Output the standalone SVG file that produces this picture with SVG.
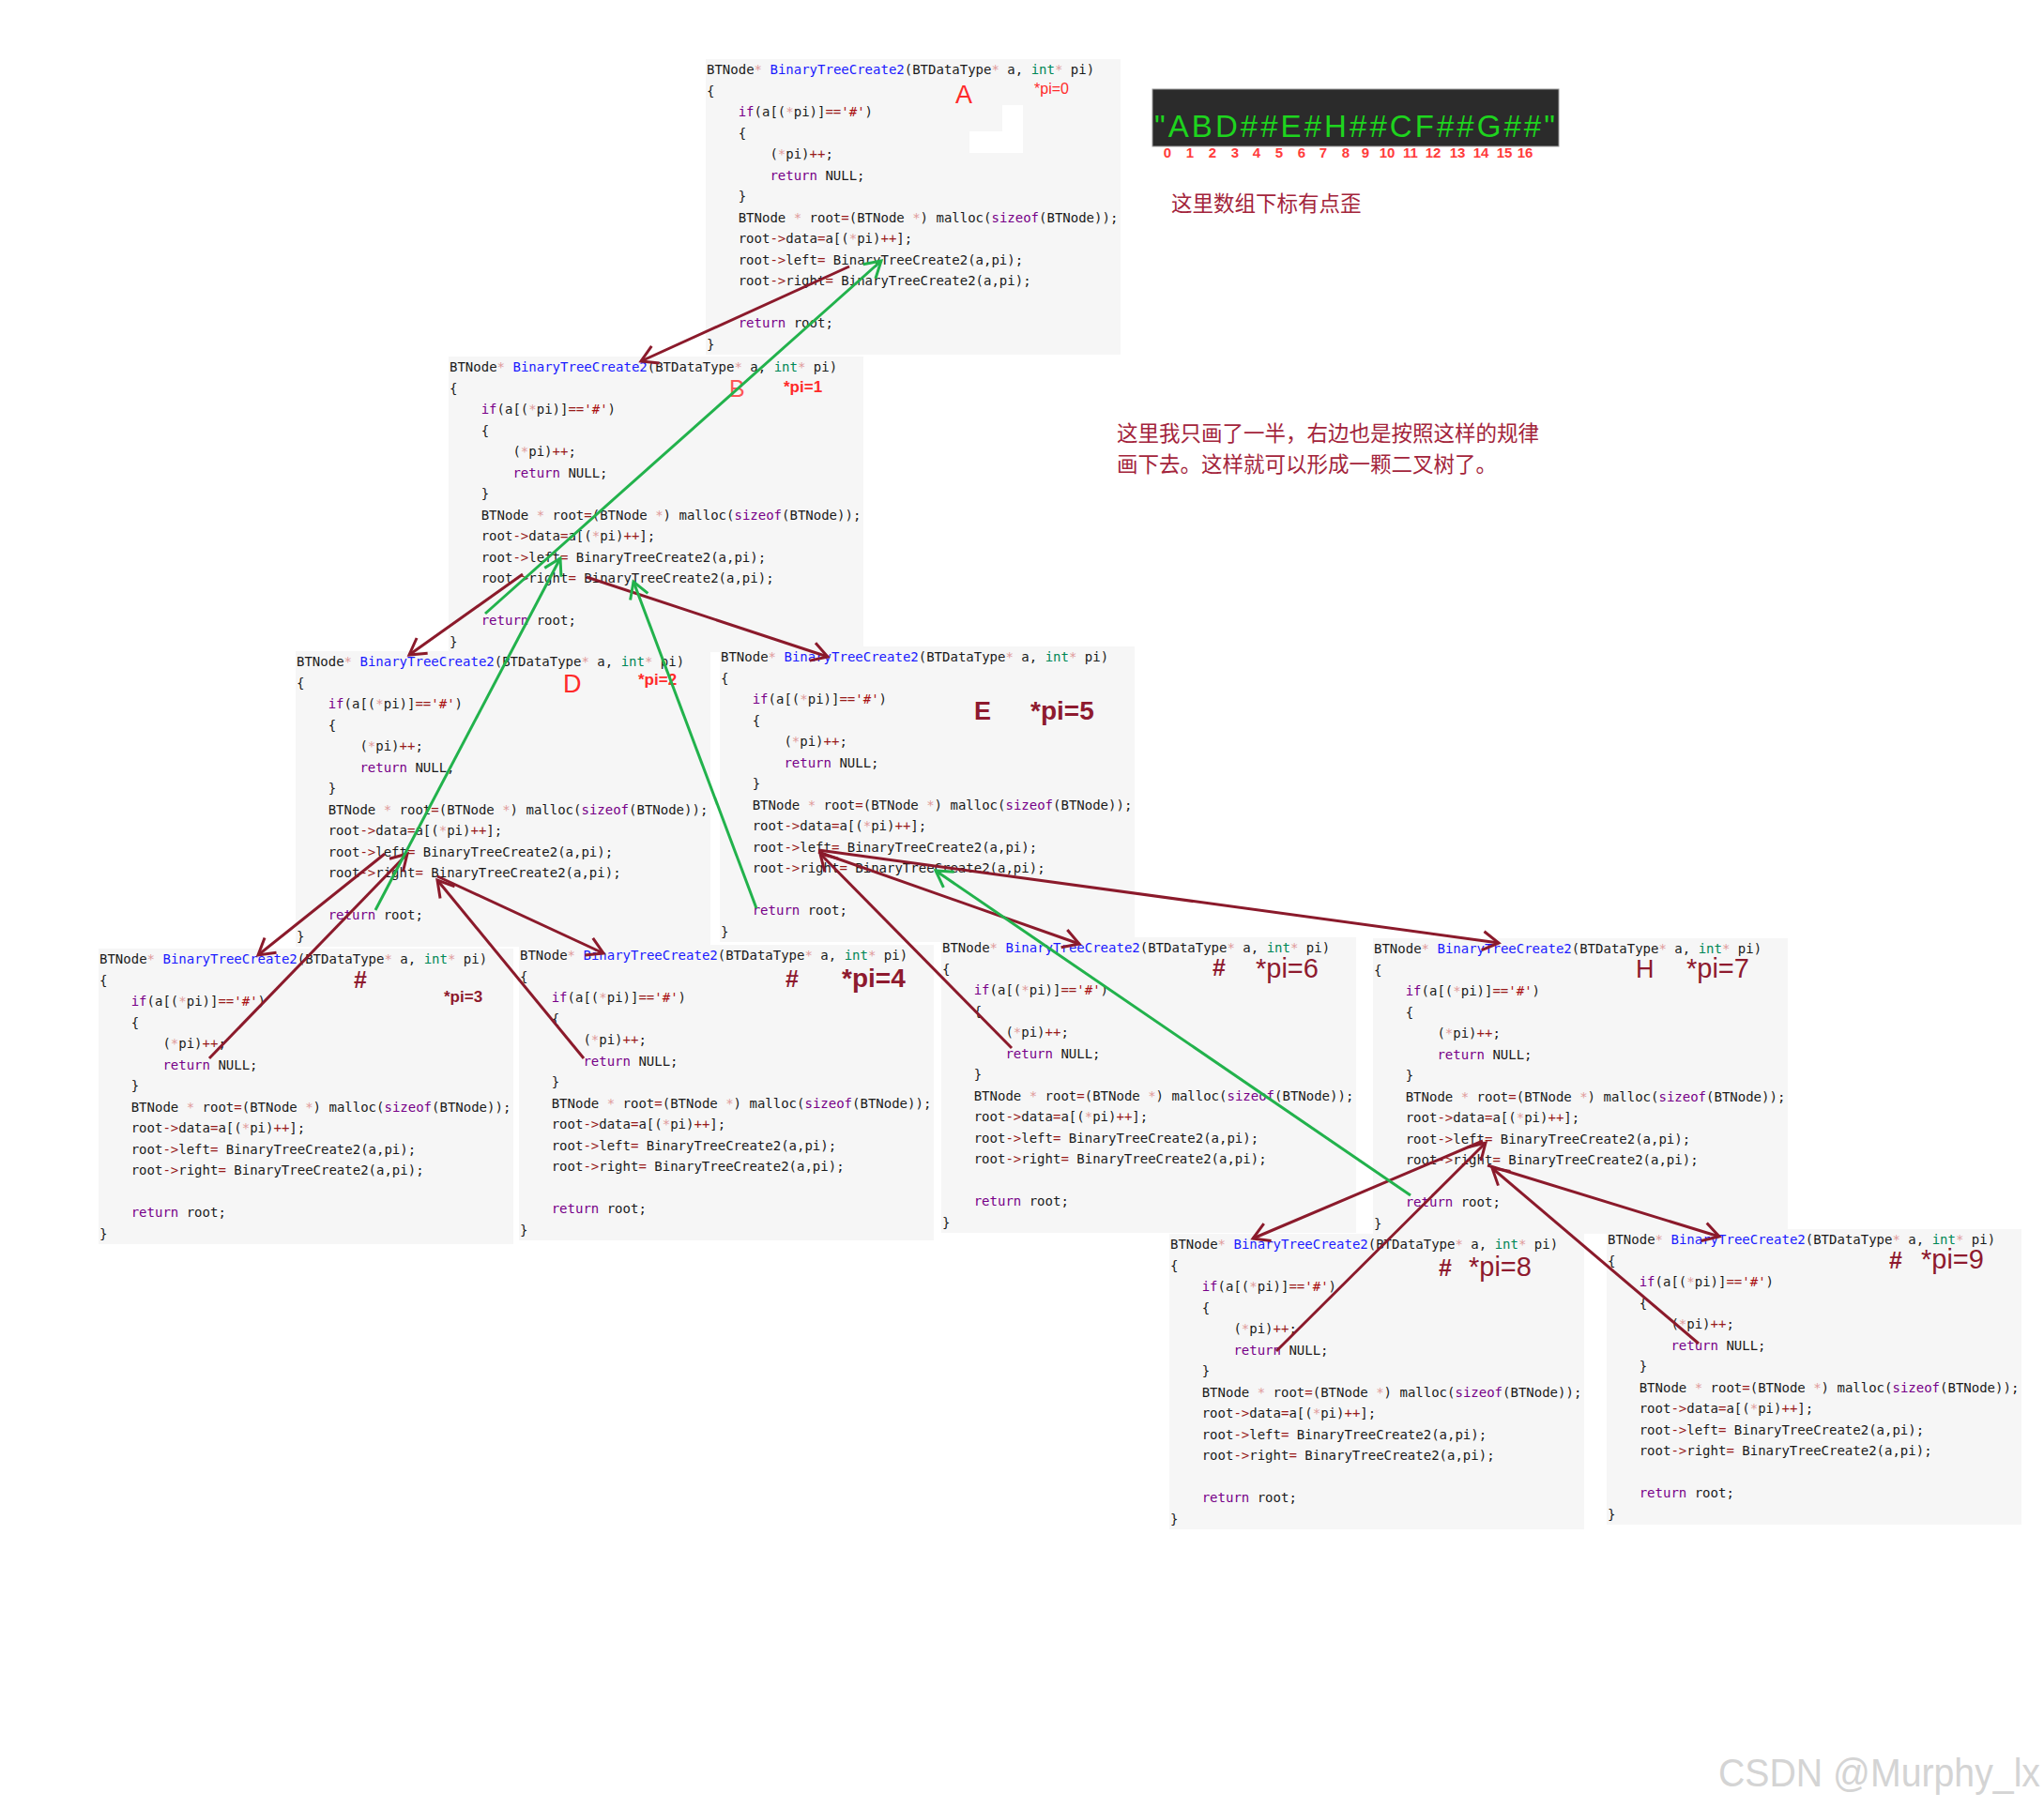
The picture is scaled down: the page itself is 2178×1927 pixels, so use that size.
<svg xmlns="http://www.w3.org/2000/svg" width="2178" height="1927" viewBox="0 0 2178 1927">
<style>
.bg{fill:#f6f6f6}
.c{font-family:"DejaVu Sans Mono","Liberation Mono",monospace;font-size:14px;fill:#1a1a1a}
.k{fill:#770088}.t{fill:#008855}.d{fill:#1a1aff}.o{fill:#981a1a}.s{fill:#aa1111}.p{fill:#e09a9a}
.lr{font-family:"Liberation Sans",Arial,sans-serif;fill:#ff2a2a}
.ld{font-family:"Liberation Sans",Arial,sans-serif;fill:#8e1a2e}
.b{font-weight:bold}
.red{stroke:#8b1a2b;stroke-width:3;fill:none;marker-end:url(#mr)}
.grn{stroke:#22b24c;stroke-width:3;fill:none;marker-end:url(#mg)}
.cn{font-family:"Noto Sans CJK SC","Noto Sans",sans-serif;fill:#a3243b;font-size:22.5px}
.idx{font-family:"Liberation Sans",Arial,sans-serif;font-weight:bold;font-size:15px;fill:#ff3b3b;text-anchor:middle}
</style>
<defs>
<marker id="mr" markerUnits="userSpaceOnUse" markerWidth="40" markerHeight="40" viewBox="-20 -20 40 40" refX="0" refY="0" orient="auto"><path d="M-17,-10 L0,0 L-17,10" fill="none" stroke="#8b1a2b" stroke-width="3"/></marker>
<marker id="mg" markerUnits="userSpaceOnUse" markerWidth="40" markerHeight="40" viewBox="-20 -20 40 40" refX="0" refY="0" orient="auto"><path d="M-17,-10 L0,0 L-17,10" fill="none" stroke="#22b24c" stroke-width="3"/></marker>
</defs>
<rect width="2178" height="1927" fill="#ffffff"/>

<g id="node-A" transform="translate(752,63)">
<rect class="bg" width="442" height="315"/>
<text class="c" x="1" y="16">BTNode<tspan class="p">*</tspan> <tspan class="d">BinaryTreeCreate2</tspan>(BTDataType<tspan class="p">*</tspan> a, <tspan class="t">int</tspan><tspan class="p">*</tspan> pi)</text>
<text class="c" x="1" y="38.5">{</text>
<text class="c" x="34.7" y="61"><tspan class="k">if</tspan>(a[(<tspan class="p">*</tspan>pi)]<tspan class="o">==</tspan><tspan class="s">'#'</tspan>)</text>
<text class="c" x="34.7" y="83.5">{</text>
<text class="c" x="68.4" y="106">(<tspan class="p">*</tspan>pi)<tspan class="o">++</tspan>;</text>
<text class="c" x="68.4" y="128.5"><tspan class="k">return</tspan> NULL;</text>
<text class="c" x="34.7" y="151">}</text>
<text class="c" x="34.7" y="173.5">BTNode <tspan class="p">*</tspan> root<tspan class="o">=</tspan>(BTNode <tspan class="p">*</tspan>) malloc(<tspan class="k">sizeof</tspan>(BTNode));</text>
<text class="c" x="34.7" y="196">root<tspan class="o">-&gt;</tspan>data<tspan class="o">=</tspan>a[(<tspan class="p">*</tspan>pi)<tspan class="o">++</tspan>];</text>
<text class="c" x="34.7" y="218.5">root<tspan class="o">-&gt;</tspan>left<tspan class="o">=</tspan> BinaryTreeCreate2(a,pi);</text>
<text class="c" x="34.7" y="241">root<tspan class="o">-&gt;</tspan>right<tspan class="o">=</tspan> BinaryTreeCreate2(a,pi);</text>
<text class="c" x="34.7" y="286"><tspan class="k">return</tspan> root;</text>
<text class="c" x="1" y="308.5">}</text>
<polygon points="316,49 338,49 338,100 281,100 281,77 316,77" fill="#ffffff"/>
<text class="lr" x="266" y="47" font-size="27">A</text>
<text class="lr" x="350" y="37" font-size="16">*pi=0</text>
</g>

<g id="node-B" transform="translate(478,380)">
<rect class="bg" width="442" height="315"/>
<text class="c" x="1" y="16">BTNode<tspan class="p">*</tspan> <tspan class="d">BinaryTreeCreate2</tspan>(BTDataType<tspan class="p">*</tspan> a, <tspan class="t">int</tspan><tspan class="p">*</tspan> pi)</text>
<text class="c" x="1" y="38.5">{</text>
<text class="c" x="34.7" y="61"><tspan class="k">if</tspan>(a[(<tspan class="p">*</tspan>pi)]<tspan class="o">==</tspan><tspan class="s">'#'</tspan>)</text>
<text class="c" x="34.7" y="83.5">{</text>
<text class="c" x="68.4" y="106">(<tspan class="p">*</tspan>pi)<tspan class="o">++</tspan>;</text>
<text class="c" x="68.4" y="128.5"><tspan class="k">return</tspan> NULL;</text>
<text class="c" x="34.7" y="151">}</text>
<text class="c" x="34.7" y="173.5">BTNode <tspan class="p">*</tspan> root<tspan class="o">=</tspan>(BTNode <tspan class="p">*</tspan>) malloc(<tspan class="k">sizeof</tspan>(BTNode));</text>
<text class="c" x="34.7" y="196">root<tspan class="o">-&gt;</tspan>data<tspan class="o">=</tspan>a[(<tspan class="p">*</tspan>pi)<tspan class="o">++</tspan>];</text>
<text class="c" x="34.7" y="218.5">root<tspan class="o">-&gt;</tspan>left<tspan class="o">=</tspan> BinaryTreeCreate2(a,pi);</text>
<text class="c" x="34.7" y="241">root<tspan class="o">-&gt;</tspan>right<tspan class="o">=</tspan> BinaryTreeCreate2(a,pi);</text>
<text class="c" x="34.7" y="286"><tspan class="k">return</tspan> root;</text>
<text class="c" x="1" y="308.5">}</text>
<text class="lr" x="299" y="43" font-size="25" fill-opacity="0.8">B</text>
<text class="lr b" x="357" y="38" font-size="17">*pi=1</text>
</g>

<g id="node-D" transform="translate(315,694)">
<rect class="bg" width="442" height="315"/>
<text class="c" x="1" y="16">BTNode<tspan class="p">*</tspan> <tspan class="d">BinaryTreeCreate2</tspan>(BTDataType<tspan class="p">*</tspan> a, <tspan class="t">int</tspan><tspan class="p">*</tspan> pi)</text>
<text class="c" x="1" y="38.5">{</text>
<text class="c" x="34.7" y="61"><tspan class="k">if</tspan>(a[(<tspan class="p">*</tspan>pi)]<tspan class="o">==</tspan><tspan class="s">'#'</tspan>)</text>
<text class="c" x="34.7" y="83.5">{</text>
<text class="c" x="68.4" y="106">(<tspan class="p">*</tspan>pi)<tspan class="o">++</tspan>;</text>
<text class="c" x="68.4" y="128.5"><tspan class="k">return</tspan> NULL;</text>
<text class="c" x="34.7" y="151">}</text>
<text class="c" x="34.7" y="173.5">BTNode <tspan class="p">*</tspan> root<tspan class="o">=</tspan>(BTNode <tspan class="p">*</tspan>) malloc(<tspan class="k">sizeof</tspan>(BTNode));</text>
<text class="c" x="34.7" y="196">root<tspan class="o">-&gt;</tspan>data<tspan class="o">=</tspan>a[(<tspan class="p">*</tspan>pi)<tspan class="o">++</tspan>];</text>
<text class="c" x="34.7" y="218.5">root<tspan class="o">-&gt;</tspan>left<tspan class="o">=</tspan> BinaryTreeCreate2(a,pi);</text>
<text class="c" x="34.7" y="241">root<tspan class="o">-&gt;</tspan>right<tspan class="o">=</tspan> BinaryTreeCreate2(a,pi);</text>
<text class="c" x="34.7" y="286"><tspan class="k">return</tspan> root;</text>
<text class="c" x="1" y="308.5">}</text>
<text class="lr" x="285" y="44" font-size="27">D</text>
<text class="lr b" x="365" y="36" font-size="17">*pi=2</text>
</g>

<g id="node-E" transform="translate(767,689)">
<rect class="bg" width="442" height="315"/>
<text class="c" x="1" y="16">BTNode<tspan class="p">*</tspan> <tspan class="d">BinaryTreeCreate2</tspan>(BTDataType<tspan class="p">*</tspan> a, <tspan class="t">int</tspan><tspan class="p">*</tspan> pi)</text>
<text class="c" x="1" y="38.5">{</text>
<text class="c" x="34.7" y="61"><tspan class="k">if</tspan>(a[(<tspan class="p">*</tspan>pi)]<tspan class="o">==</tspan><tspan class="s">'#'</tspan>)</text>
<text class="c" x="34.7" y="83.5">{</text>
<text class="c" x="68.4" y="106">(<tspan class="p">*</tspan>pi)<tspan class="o">++</tspan>;</text>
<text class="c" x="68.4" y="128.5"><tspan class="k">return</tspan> NULL;</text>
<text class="c" x="34.7" y="151">}</text>
<text class="c" x="34.7" y="173.5">BTNode <tspan class="p">*</tspan> root<tspan class="o">=</tspan>(BTNode <tspan class="p">*</tspan>) malloc(<tspan class="k">sizeof</tspan>(BTNode));</text>
<text class="c" x="34.7" y="196">root<tspan class="o">-&gt;</tspan>data<tspan class="o">=</tspan>a[(<tspan class="p">*</tspan>pi)<tspan class="o">++</tspan>];</text>
<text class="c" x="34.7" y="218.5">root<tspan class="o">-&gt;</tspan>left<tspan class="o">=</tspan> BinaryTreeCreate2(a,pi);</text>
<text class="c" x="34.7" y="241">root<tspan class="o">-&gt;</tspan>right<tspan class="o">=</tspan> BinaryTreeCreate2(a,pi);</text>
<text class="c" x="34.7" y="286"><tspan class="k">return</tspan> root;</text>
<text class="c" x="1" y="308.5">}</text>
<text class="ld b" x="271" y="78" font-size="27">E</text>
<text class="ld b" x="331" y="78" font-size="28">*pi=5</text>
</g>

<g id="node-3" transform="translate(105,1011)">
<rect class="bg" width="442" height="315"/>
<text class="c" x="1" y="16">BTNode<tspan class="p">*</tspan> <tspan class="d">BinaryTreeCreate2</tspan>(BTDataType<tspan class="p">*</tspan> a, <tspan class="t">int</tspan><tspan class="p">*</tspan> pi)</text>
<text class="c" x="1" y="38.5">{</text>
<text class="c" x="34.7" y="61"><tspan class="k">if</tspan>(a[(<tspan class="p">*</tspan>pi)]<tspan class="o">==</tspan><tspan class="s">'#'</tspan>)</text>
<text class="c" x="34.7" y="83.5">{</text>
<text class="c" x="68.4" y="106">(<tspan class="p">*</tspan>pi)<tspan class="o">++</tspan>;</text>
<text class="c" x="68.4" y="128.5"><tspan class="k">return</tspan> NULL;</text>
<text class="c" x="34.7" y="151">}</text>
<text class="c" x="34.7" y="173.5">BTNode <tspan class="p">*</tspan> root<tspan class="o">=</tspan>(BTNode <tspan class="p">*</tspan>) malloc(<tspan class="k">sizeof</tspan>(BTNode));</text>
<text class="c" x="34.7" y="196">root<tspan class="o">-&gt;</tspan>data<tspan class="o">=</tspan>a[(<tspan class="p">*</tspan>pi)<tspan class="o">++</tspan>];</text>
<text class="c" x="34.7" y="218.5">root<tspan class="o">-&gt;</tspan>left<tspan class="o">=</tspan> BinaryTreeCreate2(a,pi);</text>
<text class="c" x="34.7" y="241">root<tspan class="o">-&gt;</tspan>right<tspan class="o">=</tspan> BinaryTreeCreate2(a,pi);</text>
<text class="c" x="34.7" y="286"><tspan class="k">return</tspan> root;</text>
<text class="c" x="1" y="308.5">}</text>
<text class="ld b" x="272" y="42" font-size="25">#</text>
<text class="ld b" x="368" y="57" font-size="17">*pi=3</text>
</g>

<g id="node-4" transform="translate(553,1007)">
<rect class="bg" width="442" height="315"/>
<text class="c" x="1" y="16">BTNode<tspan class="p">*</tspan> <tspan class="d">BinaryTreeCreate2</tspan>(BTDataType<tspan class="p">*</tspan> a, <tspan class="t">int</tspan><tspan class="p">*</tspan> pi)</text>
<text class="c" x="1" y="38.5">{</text>
<text class="c" x="34.7" y="61"><tspan class="k">if</tspan>(a[(<tspan class="p">*</tspan>pi)]<tspan class="o">==</tspan><tspan class="s">'#'</tspan>)</text>
<text class="c" x="34.7" y="83.5">{</text>
<text class="c" x="68.4" y="106">(<tspan class="p">*</tspan>pi)<tspan class="o">++</tspan>;</text>
<text class="c" x="68.4" y="128.5"><tspan class="k">return</tspan> NULL;</text>
<text class="c" x="34.7" y="151">}</text>
<text class="c" x="34.7" y="173.5">BTNode <tspan class="p">*</tspan> root<tspan class="o">=</tspan>(BTNode <tspan class="p">*</tspan>) malloc(<tspan class="k">sizeof</tspan>(BTNode));</text>
<text class="c" x="34.7" y="196">root<tspan class="o">-&gt;</tspan>data<tspan class="o">=</tspan>a[(<tspan class="p">*</tspan>pi)<tspan class="o">++</tspan>];</text>
<text class="c" x="34.7" y="218.5">root<tspan class="o">-&gt;</tspan>left<tspan class="o">=</tspan> BinaryTreeCreate2(a,pi);</text>
<text class="c" x="34.7" y="241">root<tspan class="o">-&gt;</tspan>right<tspan class="o">=</tspan> BinaryTreeCreate2(a,pi);</text>
<text class="c" x="34.7" y="286"><tspan class="k">return</tspan> root;</text>
<text class="c" x="1" y="308.5">}</text>
<text class="ld b" x="284" y="45" font-size="25">#</text>
<text class="ld b" x="344" y="45" font-size="28">*pi=4</text>
</g>

<g id="node-6" transform="translate(1003,999)">
<rect class="bg" width="442" height="315"/>
<text class="c" x="1" y="16">BTNode<tspan class="p">*</tspan> <tspan class="d">BinaryTreeCreate2</tspan>(BTDataType<tspan class="p">*</tspan> a, <tspan class="t">int</tspan><tspan class="p">*</tspan> pi)</text>
<text class="c" x="1" y="38.5">{</text>
<text class="c" x="34.7" y="61"><tspan class="k">if</tspan>(a[(<tspan class="p">*</tspan>pi)]<tspan class="o">==</tspan><tspan class="s">'#'</tspan>)</text>
<text class="c" x="34.7" y="83.5">{</text>
<text class="c" x="68.4" y="106">(<tspan class="p">*</tspan>pi)<tspan class="o">++</tspan>;</text>
<text class="c" x="68.4" y="128.5"><tspan class="k">return</tspan> NULL;</text>
<text class="c" x="34.7" y="151">}</text>
<text class="c" x="34.7" y="173.5">BTNode <tspan class="p">*</tspan> root<tspan class="o">=</tspan>(BTNode <tspan class="p">*</tspan>) malloc(<tspan class="k">sizeof</tspan>(BTNode));</text>
<text class="c" x="34.7" y="196">root<tspan class="o">-&gt;</tspan>data<tspan class="o">=</tspan>a[(<tspan class="p">*</tspan>pi)<tspan class="o">++</tspan>];</text>
<text class="c" x="34.7" y="218.5">root<tspan class="o">-&gt;</tspan>left<tspan class="o">=</tspan> BinaryTreeCreate2(a,pi);</text>
<text class="c" x="34.7" y="241">root<tspan class="o">-&gt;</tspan>right<tspan class="o">=</tspan> BinaryTreeCreate2(a,pi);</text>
<text class="c" x="34.7" y="286"><tspan class="k">return</tspan> root;</text>
<text class="c" x="1" y="308.5">}</text>
<text class="ld b" x="289" y="41" font-size="25">#</text>
<text class="ld" x="335" y="43" font-size="29">*pi=6</text>
</g>

<g id="node-H" transform="translate(1463,1000)">
<rect class="bg" width="442" height="315"/>
<text class="c" x="1" y="16">BTNode<tspan class="p">*</tspan> <tspan class="d">BinaryTreeCreate2</tspan>(BTDataType<tspan class="p">*</tspan> a, <tspan class="t">int</tspan><tspan class="p">*</tspan> pi)</text>
<text class="c" x="1" y="38.5">{</text>
<text class="c" x="34.7" y="61"><tspan class="k">if</tspan>(a[(<tspan class="p">*</tspan>pi)]<tspan class="o">==</tspan><tspan class="s">'#'</tspan>)</text>
<text class="c" x="34.7" y="83.5">{</text>
<text class="c" x="68.4" y="106">(<tspan class="p">*</tspan>pi)<tspan class="o">++</tspan>;</text>
<text class="c" x="68.4" y="128.5"><tspan class="k">return</tspan> NULL;</text>
<text class="c" x="34.7" y="151">}</text>
<text class="c" x="34.7" y="173.5">BTNode <tspan class="p">*</tspan> root<tspan class="o">=</tspan>(BTNode <tspan class="p">*</tspan>) malloc(<tspan class="k">sizeof</tspan>(BTNode));</text>
<text class="c" x="34.7" y="196">root<tspan class="o">-&gt;</tspan>data<tspan class="o">=</tspan>a[(<tspan class="p">*</tspan>pi)<tspan class="o">++</tspan>];</text>
<text class="c" x="34.7" y="218.5">root<tspan class="o">-&gt;</tspan>left<tspan class="o">=</tspan> BinaryTreeCreate2(a,pi);</text>
<text class="c" x="34.7" y="241">root<tspan class="o">-&gt;</tspan>right<tspan class="o">=</tspan> BinaryTreeCreate2(a,pi);</text>
<text class="c" x="34.7" y="286"><tspan class="k">return</tspan> root;</text>
<text class="c" x="1" y="308.5">}</text>
<text class="ld" x="280" y="42" font-size="27">H</text>
<text class="ld" x="334" y="42" font-size="29">*pi=7</text>
</g>

<g id="node-8" transform="translate(1246,1315)">
<rect class="bg" width="442" height="315"/>
<text class="c" x="1" y="16">BTNode<tspan class="p">*</tspan> <tspan class="d">BinaryTreeCreate2</tspan>(BTDataType<tspan class="p">*</tspan> a, <tspan class="t">int</tspan><tspan class="p">*</tspan> pi)</text>
<text class="c" x="1" y="38.5">{</text>
<text class="c" x="34.7" y="61"><tspan class="k">if</tspan>(a[(<tspan class="p">*</tspan>pi)]<tspan class="o">==</tspan><tspan class="s">'#'</tspan>)</text>
<text class="c" x="34.7" y="83.5">{</text>
<text class="c" x="68.4" y="106">(<tspan class="p">*</tspan>pi)<tspan class="o">++</tspan>;</text>
<text class="c" x="68.4" y="128.5"><tspan class="k">return</tspan> NULL;</text>
<text class="c" x="34.7" y="151">}</text>
<text class="c" x="34.7" y="173.5">BTNode <tspan class="p">*</tspan> root<tspan class="o">=</tspan>(BTNode <tspan class="p">*</tspan>) malloc(<tspan class="k">sizeof</tspan>(BTNode));</text>
<text class="c" x="34.7" y="196">root<tspan class="o">-&gt;</tspan>data<tspan class="o">=</tspan>a[(<tspan class="p">*</tspan>pi)<tspan class="o">++</tspan>];</text>
<text class="c" x="34.7" y="218.5">root<tspan class="o">-&gt;</tspan>left<tspan class="o">=</tspan> BinaryTreeCreate2(a,pi);</text>
<text class="c" x="34.7" y="241">root<tspan class="o">-&gt;</tspan>right<tspan class="o">=</tspan> BinaryTreeCreate2(a,pi);</text>
<text class="c" x="34.7" y="286"><tspan class="k">return</tspan> root;</text>
<text class="c" x="1" y="308.5">}</text>
<text class="ld b" x="287" y="45" font-size="25">#</text>
<text class="ld" x="319" y="45" font-size="29">*pi=8</text>
</g>

<g id="node-9" transform="translate(1712,1310)">
<rect class="bg" width="442" height="315"/>
<text class="c" x="1" y="16">BTNode<tspan class="p">*</tspan> <tspan class="d">BinaryTreeCreate2</tspan>(BTDataType<tspan class="p">*</tspan> a, <tspan class="t">int</tspan><tspan class="p">*</tspan> pi)</text>
<text class="c" x="1" y="38.5">{</text>
<text class="c" x="34.7" y="61"><tspan class="k">if</tspan>(a[(<tspan class="p">*</tspan>pi)]<tspan class="o">==</tspan><tspan class="s">'#'</tspan>)</text>
<text class="c" x="34.7" y="83.5">{</text>
<text class="c" x="68.4" y="106">(<tspan class="p">*</tspan>pi)<tspan class="o">++</tspan>;</text>
<text class="c" x="68.4" y="128.5"><tspan class="k">return</tspan> NULL;</text>
<text class="c" x="34.7" y="151">}</text>
<text class="c" x="34.7" y="173.5">BTNode <tspan class="p">*</tspan> root<tspan class="o">=</tspan>(BTNode <tspan class="p">*</tspan>) malloc(<tspan class="k">sizeof</tspan>(BTNode));</text>
<text class="c" x="34.7" y="196">root<tspan class="o">-&gt;</tspan>data<tspan class="o">=</tspan>a[(<tspan class="p">*</tspan>pi)<tspan class="o">++</tspan>];</text>
<text class="c" x="34.7" y="218.5">root<tspan class="o">-&gt;</tspan>left<tspan class="o">=</tspan> BinaryTreeCreate2(a,pi);</text>
<text class="c" x="34.7" y="241">root<tspan class="o">-&gt;</tspan>right<tspan class="o">=</tspan> BinaryTreeCreate2(a,pi);</text>
<text class="c" x="34.7" y="286"><tspan class="k">return</tspan> root;</text>
<text class="c" x="1" y="308.5">}</text>
<text class="ld b" x="301" y="42" font-size="25">#</text>
<text class="ld" x="335" y="42" font-size="29">*pi=9</text>
</g>

<g id="string-array">
<rect x="1228" y="95" width="433" height="61" fill="#2b2b2b" stroke="#9a9a9a" stroke-width="1"/>
<text x="1230" y="146" font-family="Liberation Sans,Arial,sans-serif" font-size="33" fill="#1ed41e" textLength="427" lengthAdjust="spacing">"ABD##E#H##CF##G##"</text>
<text class="idx" y="168"><tspan x="1244">0</tspan><tspan x="1268">1</tspan><tspan x="1292">2</tspan><tspan x="1316">3</tspan><tspan x="1339">4</tspan><tspan x="1363">5</tspan><tspan x="1387">6</tspan><tspan x="1410">7</tspan><tspan x="1434">8</tspan><tspan x="1455">9</tspan><tspan x="1478">10</tspan><tspan x="1503">11</tspan><tspan x="1527">12</tspan><tspan x="1553">13</tspan><tspan x="1578">14</tspan><tspan x="1603">15</tspan><tspan x="1625">16</tspan></text>
</g>

<g id="notes">
<text class="cn" x="1248" y="225">这里数组下标有点歪</text>
<text class="cn" x="1190" y="470">这里我只画了一半，右边也是按照这样的规律</text>
<text class="cn" x="1190" y="503">画下去。这样就可以形成一颗二叉树了。</text>
</g>

<g id="connectors">
<line class="red" x1="905" y1="284" x2="683" y2="385"/>
<line class="red" x1="557" y1="612" x2="436" y2="698"/>
<line class="red" x1="410" y1="910" x2="275" y2="1018"/>
<line class="red" x1="223" y1="1128" x2="434" y2="910"/>
<line class="red" x1="466" y1="934" x2="643" y2="1016"/>
<line class="red" x1="622" y1="1128" x2="466" y2="938"/>
<line class="red" x1="625" y1="615" x2="882" y2="700"/>
<line class="red" x1="872" y1="908" x2="1150" y2="1006"/>
<line class="red" x1="1078" y1="1117" x2="874" y2="910"/>
<line class="red" x1="872" y1="906" x2="1597" y2="1005"/>
<line class="red" x1="1580" y1="1216" x2="1335" y2="1320"/>
<line class="red" x1="1360" y1="1440" x2="1583" y2="1218"/>
<line class="red" x1="1585" y1="1242" x2="1832" y2="1318"/>
<line class="red" x1="1810" y1="1432" x2="1590" y2="1245"/>
<line class="grn" x1="517" y1="654" x2="939" y2="278"/>
<line class="grn" x1="400" y1="970" x2="597" y2="595"/>
<line class="grn" x1="806" y1="968" x2="675" y2="620"/>
<line class="grn" x1="1503" y1="1274" x2="997" y2="928"/>
</g>

<text x="1831" y="1904" font-family="Liberation Sans,Arial,sans-serif" font-size="42" fill="#d4d4d4" textLength="343" lengthAdjust="spacingAndGlyphs">CSDN @Murphy_lx</text>
</svg>
